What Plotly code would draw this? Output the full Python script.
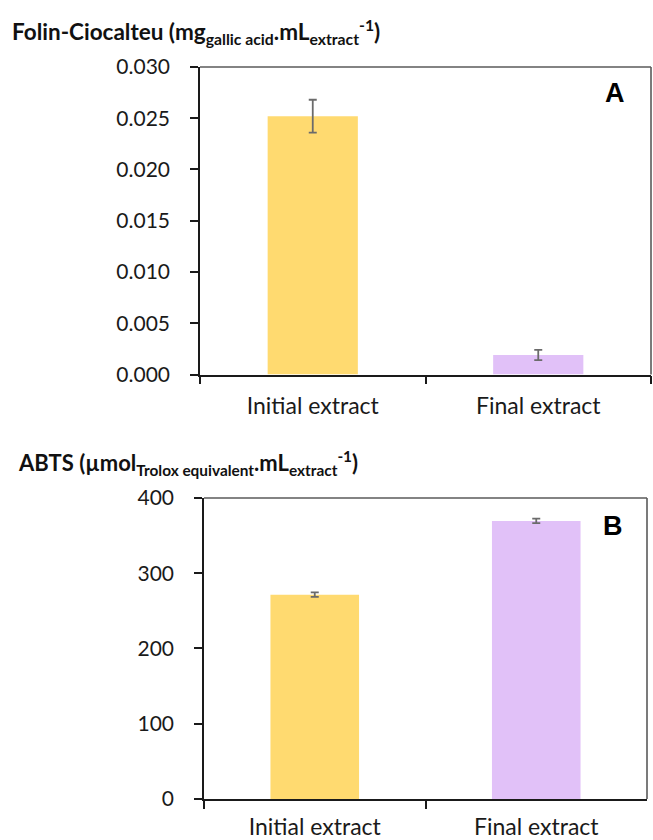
import plotly.graph_objects as go

categories = ["Initial extract", "Final extract"]
folin_values = [0.0252, 0.0019]
folin_errors = [0.0016, 0.0005]
abts_values = [271.5, 369.5]
abts_errors = [3.0, 3.0]
folin_ticks = [0.000, 0.005, 0.010, 0.015, 0.020, 0.025, 0.030]
folin_ticktext = ["0.000", "0.005", "0.010", "0.015", "0.020", "0.025", "0.030"]
abts_ticks = [0, 100, 200, 300, 400]

bar_colors = ["#FFDA70", "#E1C1F8"]
W, H = 653, 840
FONT = "Lato"

fig = go.Figure()
fig.add_trace(go.Bar(x=categories, y=folin_values, marker=dict(color=bar_colors, line=dict(width=0)),
                     error_y=dict(type="data", array=folin_errors, color="#6b6b6b", thickness=1.8, width=4),
                     xaxis="x", yaxis="y", showlegend=False))
fig.add_trace(go.Bar(x=categories, y=abts_values, marker=dict(color=bar_colors, line=dict(width=0)),
                     error_y=dict(type="data", array=abts_errors, color="#6b6b6b", thickness=1.8, width=4),
                     xaxis="x2", yaxis="y2", showlegend=False))

def px(x): return x / W
def py(y): return 1 - y / H

xA = [px(200), px(651)]; yA = [py(372.5), py(54.7)]
xB = [px(204), px(647)]; yB = [py(811), py(500)]

axis_common = dict(showgrid=False, zeroline=False, showline=True, linecolor="#1a1a1a", linewidth=1.6,
                   ticks="outside", ticklen=8, tickwidth=1.6, tickcolor="#1a1a1a")
yfont = dict(family=FONT, size=21, color="#1a1a1a")
xfont = dict(family=FONT, size=23, color="#1a1a1a")

fig.update_layout(
    width=W, height=H, margin=dict(l=0, r=0, t=0, b=0),
    paper_bgcolor="white", plot_bgcolor="white", bargap=0.6,
    font=dict(family=FONT, color="#1a1a1a"),
    xaxis=dict(domain=xA, anchor="y", type="category", tickson="boundaries", ticklabelstandoff=10,
               tickfont=xfont, **axis_common),
    yaxis=dict(domain=yA, anchor="x", range=[0, 0.030], tickvals=folin_ticks, ticktext=folin_ticktext,
               ticklabelstandoff=16, tickfont=yfont, **axis_common),
    xaxis2=dict(domain=xB, anchor="y2", type="category", tickson="boundaries", ticklabelstandoff=7,
                tickfont=xfont, **axis_common),
    yaxis2=dict(domain=yB, anchor="x2", range=[0, 400], tickvals=abts_ticks,
                ticklabelstandoff=16, tickfont=yfont, **axis_common),
)

for (xd, yd) in [(xA, yA), (xB, yB)]:
    fig.add_shape(type="line", xref="paper", yref="paper", x0=xd[0], x1=xd[1], y0=yd[1], y1=yd[1],
                  line=dict(color="#5a5a5a", width=1.6), layer="below")
    fig.add_shape(type="line", xref="paper", yref="paper", x0=xd[1], x1=xd[1], y0=yd[0], y1=yd[1],
                  line=dict(color="#5a5a5a", width=1.6), layer="below")

fig.add_annotation(xref="paper", yref="paper", x=px(10), y=py(17.6), xanchor="left", yanchor="middle",
                   text="<b>Folin-Ciocalteu (mg<sub>gallic acid</sub>.mL<sub>extract</sub><sup>-1</sup>)</b>",
                   showarrow=False, font=dict(family=FONT, size=22.5, color="#111"))
fig.add_annotation(xref="paper", yref="paper", x=px(16), y=py(464.4), xanchor="left", yanchor="middle",
                   text="<b>ABTS (µmol<sub>Trolox equivalent</sub>.mL<sub>extract</sub><sup>-1</sup>)</b>",
                   showarrow=False, font=dict(family=FONT, size=22, color="#111"))
fig.add_annotation(xref="paper", yref="paper", x=px(615), y=py(81.4), xanchor="center", yanchor="middle",
                   text="<b>A</b>", showarrow=False, font=dict(family="Liberation Sans", size=27, color="#000"))
fig.add_annotation(xref="paper", yref="paper", x=px(613), y=py(529.2), xanchor="center", yanchor="middle",
                   text="<b>B</b>", showarrow=False, font=dict(family="Liberation Sans", size=27, color="#000"))

fig.write_html("out.html")
